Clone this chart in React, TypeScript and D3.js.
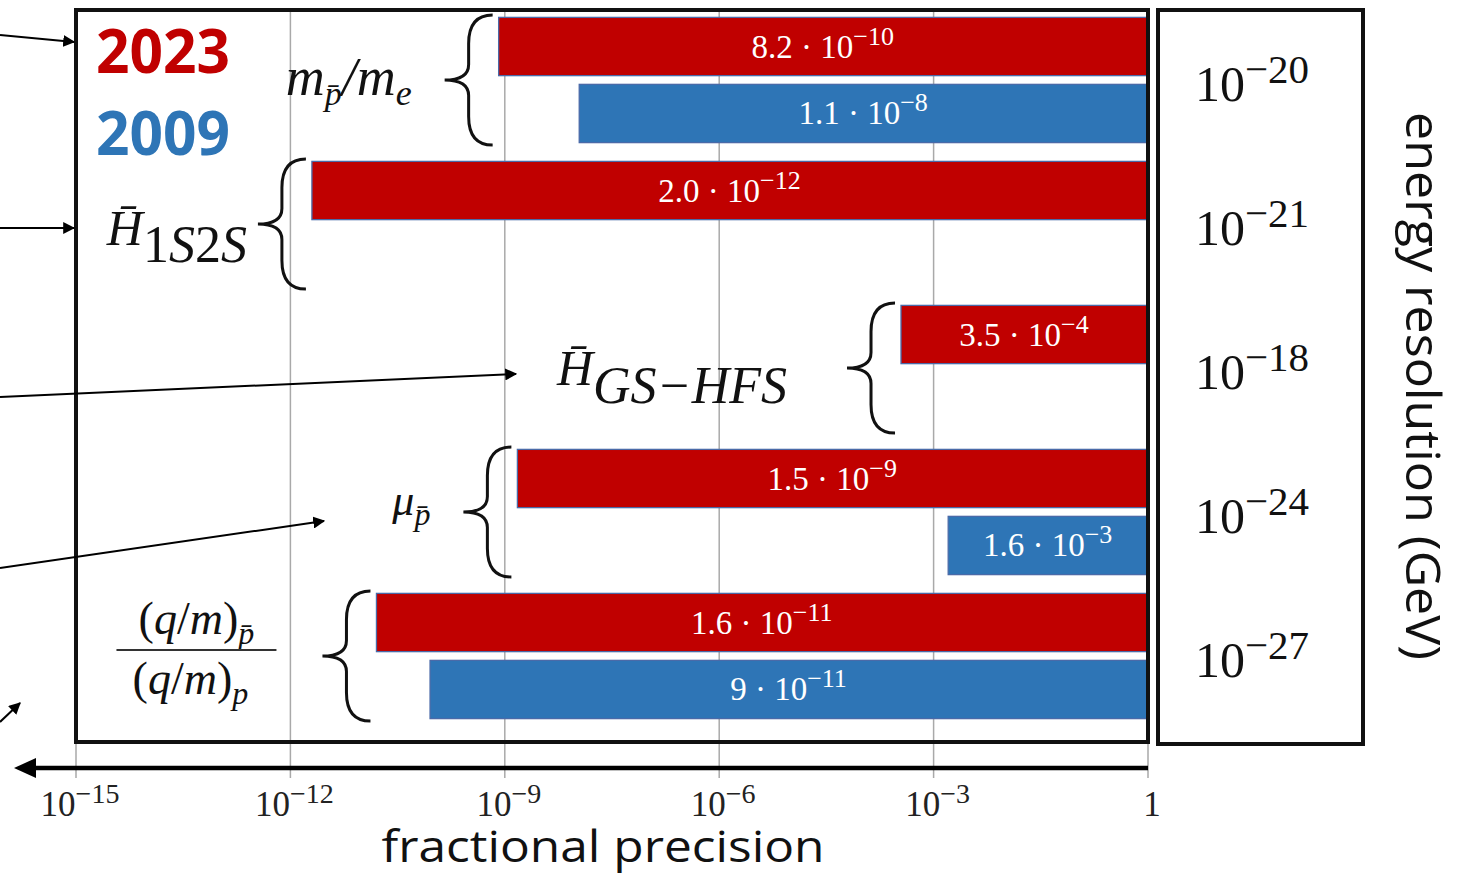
import React from "react";
import * as d3 from "d3";

// ---------- data ----------
const groups = ["mpme", "H1S2S", "HGSHFS", "mu", "qm"];
const mant2023 = ["8.2", "2.0", "3.5", "1.5", "1.6"];
const exp2023 = [-10, -12, -4, -9, -11];
const mant2009: (string | null)[] = ["1.1", null, null, "1.6", "9"];
const exp2009: (number | null)[] = [-8, null, null, -3, -11];
const energyExp = [-20, -21, -18, -24, -27];
const tickExps = [-15, -12, -9, -6, -3, 0];
const years = ["2023", "2009"];

// ---------- style / layout ----------
const W = 1467, H = 875;
const RED = "#C00000", BLUE = "#2E75B6";
const SERIF = "'Liberation Serif', 'DejaVu Serif', serif";
const SANS = "'Open Sans', 'Noto Sans', sans-serif";
const frame = { x0: 76, x1: 1148, y0: 10, y1: 742 };
const labelGap = [33, 11, 60, 33, 46];
const annotArrows = [
  [[0, 35], [74, 42]],
  [[0, 228], [74, 228]],
  [[0, 397], [516, 374]],
  [[0, 568], [324, 521]],
  [[0, 722], [20, 703]],
];

const x = d3.scaleLog().domain([1e-15, 1]).range([frame.x0, frame.x1]);
const yG = d3.scaleBand().domain(groups).range([8, 728]);
const yIn = d3.scaleBand().domain(years).range([0, yG.bandwidth()]).paddingInner(0.13).paddingOuter(0.14);

function val(m: string | null, e: number | null) {
  return m == null || e == null ? null : +m * Math.pow(10, e);
}
const series = [
  { year: "2023", color: RED, vals: mant2023.map((m, i) => val(m, exp2023[i])), mant: mant2023, exps: exp2023 },
  { year: "2009", color: BLUE, vals: mant2009.map((m, i) => val(m, exp2009[i])), mant: mant2009, exps: exp2009 },
];

function bracePath(xr: number, yc: number, w: number, h: number) {
  const xl = xr - w, xm = xr - w / 2;
  const yt = yc - h / 2, yb = yc + h / 2;
  return `M${xr},${yt} Q${xm},${yt} ${xm},${yt + h * 0.22} L${xm},${yc - h * 0.12} Q${xm},${yc} ${xl},${yc}` +
    ` Q${xm},${yc} ${xm},${yc + h * 0.12} L${xm},${yb - h * 0.22} Q${xm},${yb} ${xr},${yb}`;
}

function Pow({ e, base = 32, sup = 22, rise = 13 }: { e: number; base?: number; sup?: number; rise?: number }) {
  if (e === 0) return <tspan fontSize={base}>1</tspan>;
  return (
    <>
      <tspan fontSize={base}>10</tspan>
      <tspan fontSize={sup} dy={-rise}>{"\u2212" + Math.abs(e)}</tspan>
    </>
  );
}

function GroupLabel({ i, xEnd, yc }: { i: number; xEnd: number; yc: number }) {
  const common = { fontFamily: SERIF, fill: "#111" } as any;
  if (i === 0)
    return (
      <text {...common} x={xEnd} y={yc + 15} textAnchor="end" fontSize={54} fontStyle="italic">
        m<tspan fontSize={34} dy={10}>{"p\u0304"}</tspan>
        <tspan dy={-10}>/m</tspan>
        <tspan fontSize={36} dy={10}>e</tspan>
      </text>
    );
  if (i === 1)
    return (
      <text {...common} x={xEnd} y={yc + 21} textAnchor="end" fontSize={50}>
        <tspan fontStyle="italic">{"H\u0304"}</tspan>
        <tspan dy={17} fontStyle="italic" fontSize={52}>
          <tspan fontStyle="normal">1</tspan>S<tspan fontStyle="normal">2</tspan>S
        </tspan>
      </text>
    );
  if (i === 2)
    return (
      <text {...common} x={xEnd} y={yc + 17} textAnchor="end" fontSize={50} fontStyle="italic">
        {"H\u0304"}
        <tspan dy={18} fontSize={52}>{"GS\u2212HFS"}</tspan>
      </text>
    );
  if (i === 3)
    return (
      <text {...common} x={xEnd} y={yc + 3} textAnchor="end" fontSize={44} fontStyle="italic">
        μ<tspan fontSize={32} dy={10}>{"p\u0304"}</tspan>
      </text>
    );
  const cx = xEnd - 80;
  return (
    <g>
      <text {...common} x={cx} y={yc - 22} textAnchor="middle" fontSize={46}>
        (<tspan fontStyle="italic">q</tspan>/<tspan fontStyle="italic">m</tspan>)
        <tspan fontSize={32} dy={10} fontStyle="italic">{"p\u0304"}</tspan>
      </text>
      <line x1={cx - 80} x2={cx + 80} y1={yc - 6} y2={yc - 6} stroke="#333" strokeWidth={2} />
      <text {...common} x={cx - 6} y={yc + 38} textAnchor="middle" fontSize={46}>
        (<tspan fontStyle="italic">q</tspan>/<tspan fontStyle="italic">m</tspan>)
        <tspan fontSize={32} dy={10} fontStyle="italic">p</tspan>
      </text>
    </g>
  );
}

export default function App() {
  const bw = yIn.bandwidth();
  return (
    <svg width={W} height={H} style={{ position: "absolute", left: 0, top: 0, background: "#fff" }}>
      <defs>
        <marker id="ah" viewBox="0 0 10 10" refX="9" refY="5" markerWidth="12" markerHeight="12"
          markerUnits="userSpaceOnUse" orient="auto">
          <path d="M0,0 L10,5 L0,10 z" fill="#000" />
        </marker>
      </defs>
      <rect width={W} height={H} fill="#fff" />

      {/* grid lines */}
      {tickExps.map((e) => {
        const xx = x(Math.pow(10, e));
        const inner = e !== -15 && e !== 0;
        return (
          <line key={e} x1={xx} x2={xx} y1={inner ? frame.y0 : frame.y1} y2={778}
            stroke="#a9a9a9" strokeWidth={1.5} />
        );
      })}

      {/* bars */}
      {series.map((s) =>
        s.vals.map((v, i) => {
          if (v == null) return null;
          const y0 = (yG(groups[i]) as number) + (yIn(s.year) as number);
          const x0 = x(v), x1 = x(1) - 1;
          return (
            <g key={s.year + i}>
              <rect x={x0} y={y0} width={x1 - x0} height={bw} fill={s.color} stroke="#4a6aa8" strokeWidth={1.3} />
              <text x={(x0 + x1) / 2} y={y0 + bw / 2 + 11} textAnchor="middle" fill="#fff" fontFamily={SERIF}>
                <tspan fontSize={33}>{s.mant[i] + " \u00b7 "}</tspan>
                <Pow e={s.exps[i] as number} base={33} sup={26} rise={13} />
              </text>
            </g>
          );
        })
      )}

      {/* braces and group labels */}
      {groups.map((g, i) => {
        const yc = (yG(g) as number) + yG.bandwidth() / 2;
        const xr = x(series[0].vals[i] as number) - 6;
        const w = 48;
        return (
          <g key={g}>
            <path d={bracePath(xr, yc, w, 130)} fill="none" stroke="#111" strokeWidth={3} />
            <GroupLabel i={i} xEnd={xr - w - labelGap[i]} yc={yc} />
          </g>
        );
      })}

      {/* frames */}
      <rect x={frame.x0} y={frame.y0} width={frame.x1 - frame.x0} height={frame.y1 - frame.y0}
        fill="none" stroke="#111" strokeWidth={4} />
      <rect x={1158} y={10} width={205} height={734} fill="none" stroke="#111" strokeWidth={4} />

      {/* legend years */}
      <text x={96} y={73} fill={RED} fontFamily={SANS} fontWeight={700} fontSize={60}
        textLength={134} lengthAdjust="spacingAndGlyphs">{years[0]}</text>
      <text x={96} y={155} fill={BLUE} fontFamily={SANS} fontWeight={700} fontSize={60}
        textLength={134} lengthAdjust="spacingAndGlyphs">{years[1]}</text>

      {/* energy resolution values */}
      {groups.map((g, i) => {
        const yc = (yG(g) as number) + yG.bandwidth() / 2;
        return (
          <text key={g} x={1195} y={yc + 21} fontFamily={SERIF} fill="#111">
            <Pow e={energyExp[i]} base={50} sup={41} rise={18} />
          </text>
        );
      })}
      <text transform="translate(1406,386) rotate(90)" textAnchor="middle" fontFamily={SANS} fontSize={48}
        textLength={548} lengthAdjust="spacingAndGlyphs" fill="#111">energy resolution (GeV)</text>

      {/* x axis arrow */}
      <line x1={x(1)} x2={30} y1={768} y2={768} stroke="#000" strokeWidth={4.5} />
      <path d="M14,768 L36,758 L36,778 Z" fill="#000" />
      {tickExps.map((e) => (
        <text key={e} x={x(Math.pow(10, e)) + 4} y={816} textAnchor="middle" fontFamily={SERIF} fill="#222">
          <Pow e={e} base={35} sup={28} rise={13} />
        </text>
      ))}
      <text x={603} y={862} textAnchor="middle" fontFamily={SANS} fontSize={43} textLength={443}
        lengthAdjust="spacingAndGlyphs" fill="#111">fractional precision</text>

      {/* annotation arrows from left */}
      {annotArrows.map((a, i) => (
        <line key={i} x1={a[0][0]} y1={a[0][1]} x2={a[1][0]} y2={a[1][1]} stroke="#000" strokeWidth={2}
          markerEnd="url(#ah)" />
      ))}
    </svg>
  );
}
